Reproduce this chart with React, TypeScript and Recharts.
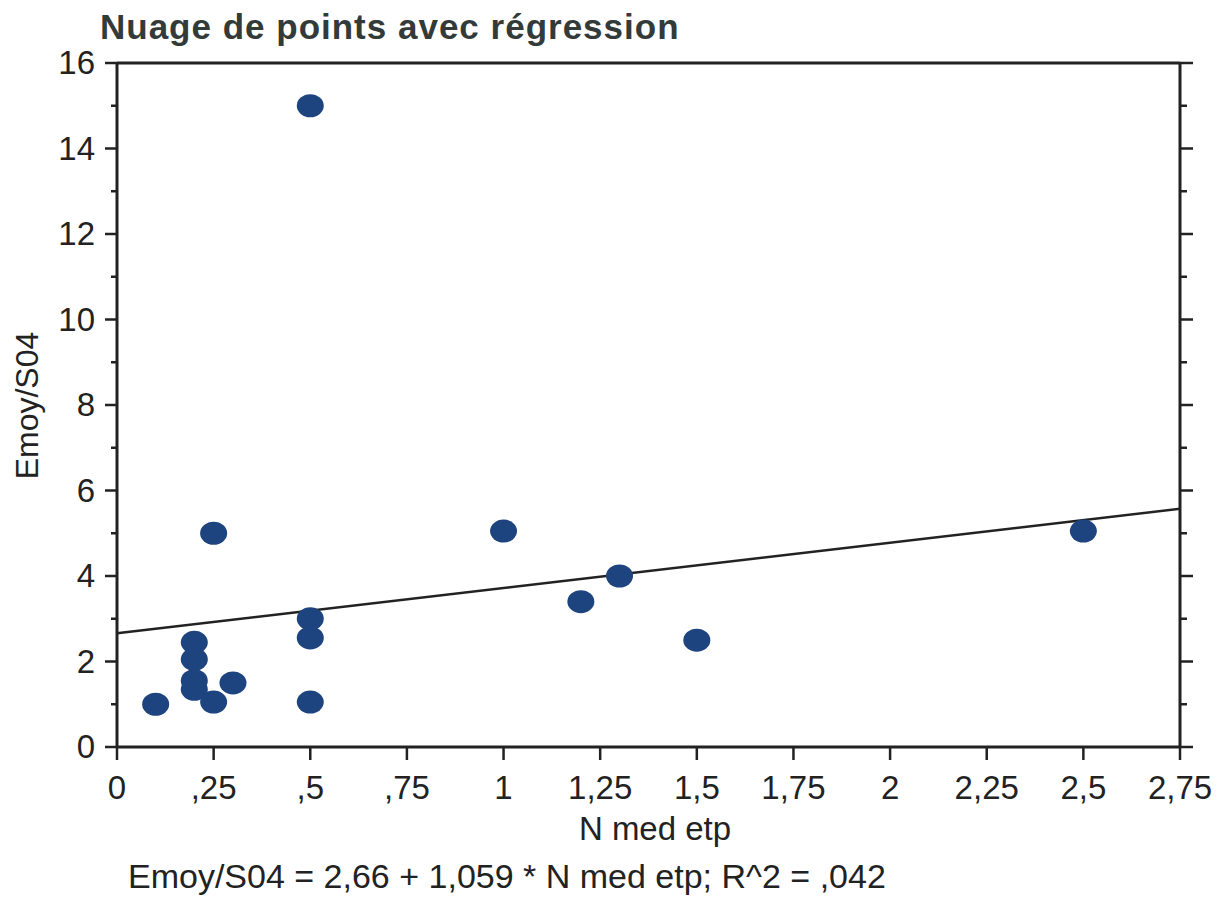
import React from 'react';
import {
  ScatterChart,
  Scatter,
  XAxis,
  YAxis,
  ReferenceLine,
} from 'recharts';

// Observations: N med etp (x) vs Emoy/S04 (y)
const nMedEtp = [0.1, 0.2, 0.2, 0.2, 0.2, 0.3, 0.25, 0.25, 0.5, 0.5, 0.5, 0.5, 1.0, 1.2, 1.3, 1.5, 2.5];
const emoyS04 = [1.0, 2.45, 2.05, 1.55, 1.35, 1.5, 1.05, 5.0, 3.0, 2.55, 1.05, 15.0, 5.05, 3.4, 4.0, 2.5, 5.05];

// Fitted line: Emoy/S04 = 2,66 + 1,059 * N med etp
const intercept = 2.66;
const slope = 1.059;
const rSquared = 0.042;

const xTicks = [0, 0.25, 0.5, 0.75, 1, 1.25, 1.5, 1.75, 2, 2.25, 2.5, 2.75];
const yTicks = [0, 1, 2, 3, 4, 5, 6, 7, 8, 9, 10, 11, 12, 13, 14, 15, 16];
const xDomain: [number, number] = [0, 2.75];
const yDomain: [number, number] = [0, 16];

const points = nMedEtp.map((x, i) => ({ x, y: emoyS04[i] }));

const INK = '#222';
const FONT = '"Liberation Sans", Arial, sans-serif';

// French-style decimals: 0.25 -> ",25", 1.25 -> "1,25"
const fmt = (v: number) => {
  const s = String(v).replace('.', ',');
  return s.startsWith('0,') ? s.slice(1) : s;
};

const BottomTick = (props: any) => {
  const { x, y, payload } = props;
  return (
    <g>
      <line x1={x} x2={x} y1={y} y2={y + 13} stroke={INK} strokeWidth={2.5} />
      <text x={x} y={y + 52} textAnchor="middle" fontSize={33} fill={INK} fontFamily={FONT}>
        {fmt(payload.value)}
      </text>
    </g>
  );
};

const TopTick = (props: any) => {
  const { x, y } = props;
  return <line x1={x} x2={x} y1={y} y2={y - 13} stroke={INK} strokeWidth={2.5} />;
};

const LeftTick = (props: any) => {
  const { x, y, payload } = props;
  const major = payload.value % 2 === 0;
  return (
    <g>
      <line x1={x} x2={x - (major ? 12 : 6)} y1={y} y2={y} stroke={INK} strokeWidth={2.5} />
      {major && (
        <text x={x - 22} y={y + 11} textAnchor="end" fontSize={33} fill={INK} fontFamily={FONT}>
          {payload.value}
        </text>
      )}
    </g>
  );
};

const RightTick = (props: any) => {
  const { x, y, payload } = props;
  const major = payload.value % 2 === 0;
  return <line x1={x} x2={x + (major ? 13 : 7)} y1={y} y2={y} stroke={INK} strokeWidth={2.5} />;
};

const Dot = (props: any) => {
  const { cx, cy } = props;
  return <ellipse cx={cx} cy={cy} rx={13.5} ry={11.5} fill="#1e4480" />;
};

export default function App() {
  const width = 1224;
  const height = 898;
  return (
    <div style={{ position: 'absolute', left: 0, top: 0, width, height, background: '#fff', fontFamily: FONT }}>
      <div
        style={{
          position: 'absolute',
          left: 100,
          top: 7,
          fontSize: 35,
          fontWeight: 'bold',
          letterSpacing: 1,
          color: '#333a3a',
          whiteSpace: 'nowrap',
        }}
      >
        Nuage de points avec régression
      </div>
      <ScatterChart width={width} height={height} margin={{ top: 23, right: 4, bottom: 0, left: 0 }}>
        <XAxis
          dataKey="x"
          type="number"
          domain={xDomain}
          ticks={xTicks}
          allowDataOverflow
          height={151}
          tickSize={0}
          tickMargin={0}
          tickLine={false}
          axisLine={{ stroke: INK, strokeWidth: 3 }}
          tick={<BottomTick />}
          interval={0}
        />
        <XAxis
          xAxisId="top"
          orientation="top"
          type="number"
          domain={xDomain}
          ticks={xTicks}
          allowDataOverflow
          height={40}
          tickSize={0}
          tickMargin={0}
          tickLine={false}
          axisLine={{ stroke: INK, strokeWidth: 3 }}
          tick={<TopTick />}
          interval={0}
        />
        <YAxis
          dataKey="y"
          type="number"
          domain={yDomain}
          ticks={yTicks}
          allowDataOverflow
          width={117}
          tickSize={0}
          tickMargin={0}
          tickLine={false}
          axisLine={{ stroke: INK, strokeWidth: 3 }}
          tick={<LeftTick />}
          interval={0}
        />
        <YAxis
          yAxisId="right"
          orientation="right"
          type="number"
          domain={yDomain}
          ticks={yTicks}
          allowDataOverflow
          width={40}
          tickSize={0}
          tickMargin={0}
          tickLine={false}
          axisLine={{ stroke: INK, strokeWidth: 3 }}
          tick={<RightTick />}
          interval={0}
        />
        <ReferenceLine
          segment={[
            { x: xDomain[0], y: intercept + slope * xDomain[0] },
            { x: xDomain[1], y: intercept + slope * xDomain[1] },
          ]}
          stroke={INK}
          strokeWidth={2.5}
        />
        <Scatter data={points} shape={<Dot />} isAnimationActive={false} />
      </ScatterChart>
      <div
        style={{
          position: 'absolute',
          left: 0,
          top: 375,
          width: 56,
          height: 60,
          display: 'flex',
          alignItems: 'center',
          justifyContent: 'center',
        }}
      >
        <div style={{ transform: 'rotate(-90deg)', fontSize: 32, color: INK, whiteSpace: 'nowrap' }}>Emoy/S04</div>
      </div>
      <div
        style={{
          position: 'absolute',
          left: 455,
          width: 400,
          top: 810,
          textAlign: 'center',
          fontSize: 33,
          color: INK,
          whiteSpace: 'nowrap',
        }}
      >
        N med etp
      </div>
      <div
        style={{
          position: 'absolute',
          left: 128,
          top: 857,
          fontSize: 34,
          color: INK,
          whiteSpace: 'nowrap',
        }}
      >
        {`Emoy/S04 = ${fmt(intercept)} + ${fmt(slope)} * N med etp; R^2 = ${fmt(rSquared)}`}
      </div>
    </div>
  );
}
